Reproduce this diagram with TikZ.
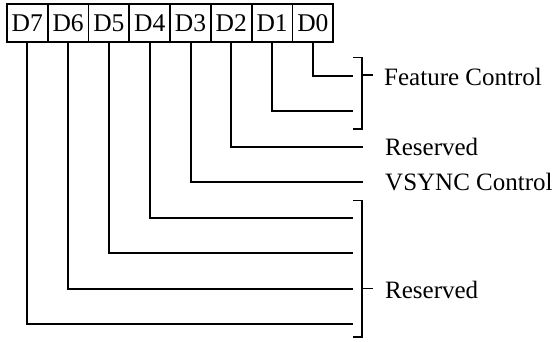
\documentclass[tikz,border=0pt]{standalone}
\usepackage{fontspec}
\setmainfont{Liberation Serif}
\begin{document}
\begin{tikzpicture}[x=1pt,y=-1pt,
  cell/.style={draw, line width=1.8pt, minimum width=40.8pt, minimum height=37.4pt, inner sep=0pt, font=\fontsize{25.5}{30}\selectfont, anchor=north west},
  wire/.style={line width=2pt},
  brk/.style={line width=1.6pt},
  lbl/.style={anchor=base west, inner sep=0pt, font=\fontsize{25}{30}\selectfont}]
\useasboundingbox (0,0) rectangle (555,341);
\foreach \n [count=\i from 0] in {7,6,5,4,3,2,1,0} {
  \node[cell] (d\n) at ({6+40.8*\i}, 3.3) {D\n};
}
% wire ends
\foreach \n/\ex in {0/353,1/353,2/362.7,3/362.7,4/353,5/353,6/353,7/353} {
  \coordinate (e\n) at (\ex, {76+35.43*\n});
  \draw[wire] (d\n.south) |- (e\n);
}
% upper bracket
\coordinate (ua) at (353,57.5);
\coordinate (ub) at (362,129);
\coordinate (uc) at (353,129);
\coordinate (ut0) at (362,75);
\coordinate (ut1) at (373,75);
\draw[brk] (ua) -| (ub) -- (uc);
\draw[brk] (ut0) -- (ut1);
% lower bracket
\coordinate (la) at (353,200.5);
\coordinate (lb) at (362,337);
\coordinate (lc) at (353,337);
\coordinate (lt0) at (362,288.3);
\coordinate (lt1) at (373,288.3);
\draw[brk] (la) -| (lb) -- (lc);
\draw[brk] (lt0) -- (lt1);
% labels
\node[lbl] (fc) at (384,85.2) {Feature Control};
\node[lbl] (r1) at (385,155.2) {Reserved};
\node[lbl] (vs) at (385,190.7) {VSYNC Control};
\node[lbl] (r2) at (385,298) {Reserved};
\end{tikzpicture}
\end{document}
